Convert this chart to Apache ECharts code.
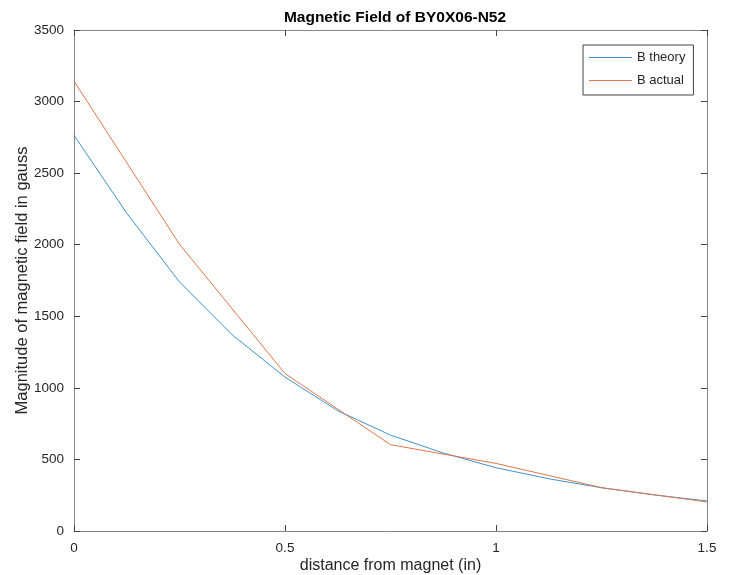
<!DOCTYPE html>
<html>
<head>
<meta charset="utf-8">
<script src="https://cdn.jsdelivr.net/npm/echarts@6/dist/echarts.min.js"></script>
<style>html,body{margin:0;padding:0;background:#fff}#c{width:731px;height:575px}</style>
</head>
<body>
<div id="c"></div>
<script>
const theoryX = [0, 0.125, 0.25, 0.375, 0.5, 0.625, 0.75, 0.875, 1, 1.125, 1.25, 1.375, 1.5];
const theoryB = [2765, 2220, 1740, 1370, 1075, 840, 670, 545, 442, 365, 302, 252, 210];
const actualX = [0, 0.25, 0.5, 0.75, 1, 1.25, 1.5];
const actualB = [3143, 2003, 1100, 603, 472, 303, 203];
const xTicks = [0, 0.5, 1, 1.5];
const yTicks = [0, 500, 1000, 1500, 2000, 2500, 3000, 3500];

const font = 'Liberation Sans, Arial, sans-serif';
const axisCol = '#878787';
const txtCol = '#262626';
const blue = '#3f92d2';
const orange = '#e0764a';

const chart = echarts.init(document.getElementById('c'));
const baseAxisLine = {show: true, onZero: false, lineStyle: {color: axisCol, width: 1}};
const tick = {show: true, inside: true, length: 6, lineStyle: {color: '#444', width: 1}};
chart.setOption({
  animation: false,
  backgroundColor: '#fff',
  title: {
    text: 'Magnetic Field of BY0X06-N52',
    left: 390, top: 5, textAlign: 'center',
    textStyle: {fontFamily: font, fontSize: 15.5, fontWeight: 'bold', color: '#000'}
  },
  legend: {
    left: 583, top: 45, orient: 'vertical',
    padding: [6, 8, 8, 6], itemGap: 10,
    itemWidth: 43, itemHeight: 1.2, icon: 'rect',
    borderColor: '#444', borderWidth: 1,
    backgroundColor: '#fff',
    textStyle: {fontFamily: font, fontSize: 13, color: txtCol},
    data: [
      {name: 'B theory', itemStyle: {color: blue}},
      {name: 'B actual', itemStyle: {color: orange}}
    ]
  },
  grid: {left: 74, right: 24, top: 30, bottom: 44, containLabel: false, outerBoundsMode: 'none'},
  xAxis: [{
    type: 'value', min: 0, max: 1.5, interval: 0.5,
    name: 'distance from magnet (in)', nameLocation: 'middle', nameGap: 27, nameMoveOverlap: false,
    nameTextStyle: {fontFamily: font, fontSize: 16, color: txtCol},
    axisLine: baseAxisLine, axisTick: tick, splitLine: {show: false},
    axisLabel: {fontFamily: font, fontSize: 13.5, color: txtCol, margin: 10,
      formatter: v => xTicks.includes(v) ? String(v) : ''}
  }, {
    type: 'value', min: 0, max: 1.5, interval: 0.5, position: 'top',
    axisLine: baseAxisLine, axisTick: tick, splitLine: {show: false}, axisLabel: {show: false}
  }],
  yAxis: [{
    type: 'value', min: 0, max: 3500, interval: 500,
    name: 'Magnitude of magnetic field in gauss', nameLocation: 'middle', nameGap: 43, nameMoveOverlap: false,
    nameTextStyle: {fontFamily: font, fontSize: 16.5, color: txtCol},
    axisLine: baseAxisLine, axisTick: tick, splitLine: {show: false},
    axisLabel: {fontFamily: font, fontSize: 13.5, color: txtCol, margin: 10,
      formatter: v => yTicks.includes(v) ? String(v) : ''}
  }, {
    type: 'value', min: 0, max: 3500, interval: 500, position: 'right',
    axisLine: baseAxisLine, axisTick: tick, splitLine: {show: false}, axisLabel: {show: false}
  }],
  series: [{
    name: 'B theory', type: 'line', symbol: 'none',
    data: theoryX.map((x, i) => [x, theoryB[i]]),
    lineStyle: {color: blue, width: 1}, itemStyle: {color: blue}
  }, {
    name: 'B actual', type: 'line', symbol: 'none',
    data: actualX.map((x, i) => [x, actualB[i]]),
    lineStyle: {color: orange, width: 1}, itemStyle: {color: orange}
  }]
});
</script>
</body>
</html>
